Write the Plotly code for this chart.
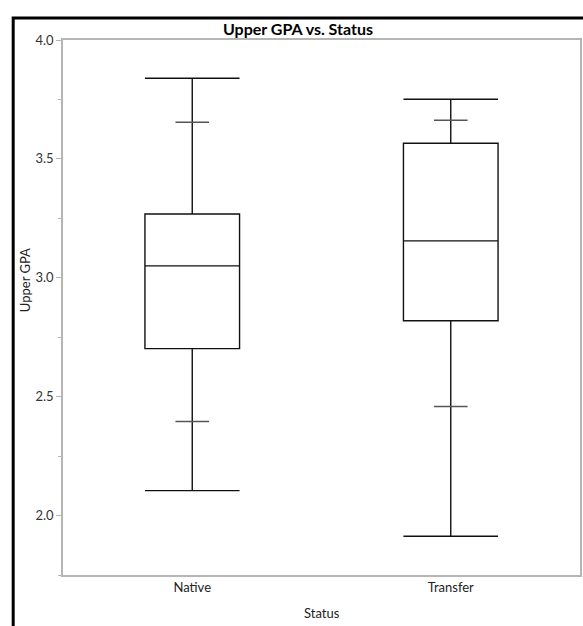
import plotly.graph_objects as go

categories = ["Native", "Transfer"]
q_min = [2.105, 1.913]
q_10 = [2.396, 2.459]
q_1 = [2.702, 2.819]
q_med = [3.050, 3.155]
q_3 = [3.268, 3.566]
q_90 = [3.654, 3.663]
q_max = [3.839, 3.751]

y_ticks = [2.0, 2.5, 3.0, 3.5, 4.0]
y_tick_text = ["2.0", "2.5", "3.0", "3.5", "4.0"]

W, H = 583, 626
ML, MR, MT, MB = 63, 1, 40, 51
PW = W - ML - MR
PH = H - MT - MB

FONT = "Lato"

fig = go.Figure()
fig.add_trace(go.Box(
    x=categories,
    q1=q_1, median=q_med, q3=q_3,
    lowerfence=q_min, upperfence=q_max,
    boxpoints=False,
    fillcolor="rgba(255,255,255,0)",
    line=dict(color="#111111", width=1.4),
    whiskerwidth=1,
    width=0.366,
    showlegend=False,
    hoverinfo="skip",
))
# 10% and 90% quantile marks
fig.add_trace(go.Scatter(
    x=categories + categories,
    y=q_10 + q_90,
    mode="markers",
    marker=dict(symbol="line-ew", size=24,
                line=dict(color="#555555", width=1.5)),
    showlegend=False,
    hoverinfo="skip",
))

fig.update_layout(
    width=W, height=H,
    margin=dict(l=ML, r=MR, t=MT, b=MB),
    paper_bgcolor="white",
    plot_bgcolor="white",
    font=dict(family=FONT, color="#222222", size=13),
    title=dict(text="<b>Upper GPA vs. Status</b>", x=298 / W, xanchor="center",
               y=1 - 29 / H, yanchor="middle", xref="container", yref="container",
               font=dict(family=FONT, size=16, color="black")),
    xaxis=dict(
        type="category",
        range=[-0.5, 1.5],
        showline=True, mirror=True, linecolor="#b5b5b5", linewidth=1.5,
        showgrid=False, ticks="", zeroline=False,
        tickfont=dict(family=FONT, size=13, color="#222222"),
    ),
    yaxis=dict(
        range=[1.75, 4.0],
        tickvals=y_ticks, ticktext=y_tick_text,
        showline=True, mirror=True, linecolor="#b5b5b5", linewidth=1.5,
        showgrid=False, zeroline=False,
        ticks="outside", ticklen=5, tickcolor="#b5b5b5", tickwidth=1,
        minor=dict(dtick=0.25, tick0=0, ticks="outside", ticklen=3,
                   tickcolor="#b5b5b5", showgrid=False),
        tickfont=dict(family=FONT, size=13, color="#333333"),
    ),
    annotations=[
        dict(text="Upper GPA", x=(25 - ML) / PW, y=(H - MB - 280) / PH,
             xref="paper", yref="paper", showarrow=False, textangle=-90,
             xanchor="center", yanchor="middle",
             font=dict(family=FONT, size=13, color="#222222")),
        dict(text="Status", x=(323 - ML) / PW, y=(H - MB - 613) / PH,
             xref="paper", yref="paper", showarrow=False,
             xanchor="center", yanchor="middle",
             font=dict(family=FONT, size=13, color="#222222")),
    ],
    shapes=[
        dict(type="rect", xref="paper", yref="paper",
             x0=(13 - ML) / PW, x1=(590 - ML) / PW,
             y0=(H - MB - 640) / PH, y1=(H - MB - 18) / PH,
             line=dict(color="black", width=3), fillcolor="rgba(0,0,0,0)",
             layer="above"),
    ],
)

fig.write_html("out.html")
